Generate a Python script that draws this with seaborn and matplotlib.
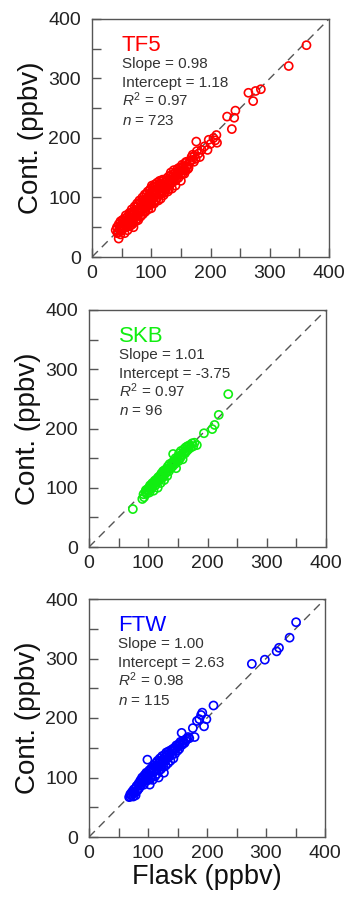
import matplotlib
matplotlib.use("Agg")
import matplotlib.pyplot as plt
import seaborn as sns
import pandas as pd
from matplotlib.ticker import MultipleLocator

sns.set_style("ticks")
plt.rcParams['font.family'] = ['Liberation Sans', 'DejaVu Sans']
plt.rcParams['mathtext.fontset'] = 'custom'
plt.rcParams['mathtext.rm'] = 'Liberation Sans'
plt.rcParams['mathtext.it'] = 'Liberation Sans:italic'

# ---------------- data ----------------
sites = ["TF5", "SKB", "FTW"]
site_colors = ["#ff0000", "#11ee11", "#0000ff"]
slopes = ["0.98", "1.01", "1.00"]
intercepts = ["1.18", "-3.75", "2.63"]
r2s = ["0.97", "0.97", "0.98"]
ns = ["723", "96", "115"]

tf5_flask = [40, 42, 43, 45, 45, 46, 48, 48, 50, 50,
             52, 53, 54, 55, 56, 57, 58, 59, 60, 60,
             62, 63, 64, 65, 66, 67, 68, 69, 70, 70,
             72, 73, 74, 75, 76, 77, 78, 79, 80, 80,
             82, 83, 84, 85, 86, 87, 88, 89, 90, 90,
             92, 93, 94, 95, 96, 97, 98, 99, 100, 100,
             102, 103, 104, 105, 106, 107, 108, 109, 110, 110,
             112, 113, 114, 115, 116, 117, 118, 119, 120, 121,
             123, 124, 126, 127, 128, 130, 131, 132, 134, 135,
             137, 138, 140, 141, 143, 144, 146, 148, 150, 150,
             152, 153, 155, 157, 158, 160, 162,
             44, 47, 49, 51, 53, 55, 57, 58, 61, 61,
             63, 64, 66, 67, 68, 70, 71, 72, 74, 75,
             76, 78, 79, 81, 82, 83, 85, 86, 88, 89,
             91, 92, 94, 95, 96, 97, 99, 100, 101, 103,
             104, 105, 107, 108, 110, 111, 112, 114, 115, 116,
             118, 119, 120, 122, 123, 125, 126, 128, 129, 130,
             132, 133, 135, 136, 138, 139, 141, 142, 145, 147,
             149, 151, 154, 156, 159, 161, 163, 166, 169, 173,
             165, 168, 170, 172, 175, 177, 180, 182, 176, 185,
             190, 195, 197, 200, 208, 210, 211, 205,
             228, 236, 240, 242, 264, 272, 276, 285, 332, 362]
tf5_cont = [45, 50, 40, 55, 31, 47, 38, 60, 52, 44,
            58, 48, 64, 40, 55, 70, 50, 62, 45, 68,
            57, 74, 52, 66, 60, 80, 55, 72, 64, 50,
            85, 68, 60, 77, 90, 70, 62, 82, 74, 95,
            68, 88, 78, 100, 72, 92, 82, 105, 76, 90,
            98, 85, 110, 80, 95, 104, 88, 115, 96, 82,
            108, 118, 92, 100, 122, 112, 95, 105, 125, 100,
            115, 105, 128, 110, 98, 120, 108, 130, 115, 104,
            125, 113, 132, 118, 110, 128, 120, 137, 125, 115,
            132, 140, 128, 120, 138, 148, 133, 143, 150, 128,
            155, 140, 147, 158, 145, 152, 148,
            42, 52, 46, 62, 56, 50, 60, 66, 52, 63,
            58, 70, 54, 64, 76, 58, 78, 66, 72, 84,
            64, 88, 76, 80, 92, 70, 86, 96, 76, 94,
            84, 106, 90, 100, 86, 112, 92, 108, 120, 98,
            112, 90, 118, 104, 112, 120, 95, 118, 124, 106,
            122, 112, 128, 108, 120, 118, 128, 124, 135, 114,
            128, 142, 135, 126, 146, 132, 142, 130, 143, 150,
            138, 146, 152, 140, 160, 155, 150, 162, 163, 170,
            160, 168, 172, 160, 165, 178, 174, 168, 194, 180,
            186, 180, 197, 190, 196, 205, 192, 200,
            236, 215, 234, 246, 276, 262, 279, 282, 321, 356]

skb_flask = [74, 90, 92, 93, 95, 97, 98, 100, 101, 102,
             104, 105, 106, 108, 109, 110, 111, 112, 114, 115,
             116, 117, 118, 120, 121, 122, 123, 125, 126, 127,
             128, 130, 131, 132, 133, 135, 136, 138, 140, 142,
             141, 143, 145, 146, 147, 148, 150, 151, 152, 154,
             155, 157, 158, 160, 162, 163, 165, 166, 168, 170,
             96, 103, 107, 113, 119, 124, 129, 134, 139, 144,
             149, 156, 161, 167,
             172, 174, 176, 178, 182, 194, 208, 212, 219, 235]
skb_cont = [64, 81, 89, 84, 93, 90, 97, 95, 100, 92,
            103, 98, 106, 102, 95, 108, 112, 104, 110, 115,
            100, 118, 112, 120, 108, 124, 116, 128, 120, 113,
            130, 125, 132, 120, 136, 128, 140, 133, 142, 157,
            136, 145, 140, 150, 133, 146, 152, 145, 158, 150,
            162, 155, 148, 165, 158, 168, 162, 170, 165, 172,
            96, 104, 108, 113, 117, 122, 127, 132, 138, 143,
            149, 156, 160, 168,
            168, 175, 170, 176, 172, 192, 199, 206, 223, 258]

ftw_flask = [68, 70, 72, 73, 75, 76, 78, 79, 80, 82,
             84, 85, 87, 88, 90, 91, 93, 94, 95, 97,
             98, 99, 100, 102, 103, 104, 105, 106, 107, 108,
             110, 111, 112, 113, 114, 115, 116, 117, 118, 119,
             120, 121, 122, 124, 125, 126, 127, 128, 129, 130,
             131, 132, 134, 135, 136, 138, 139, 140, 142, 143,
             145, 146, 148, 150, 152, 153, 155, 157, 158, 160,
             70, 74, 77, 81, 83, 86, 89, 92, 96, 98,
             101, 103, 105, 109, 112, 115, 118, 121, 123, 126,
             129, 133, 137, 141, 144, 147, 151, 154, 159, 164,
             162, 165, 168, 170, 176, 179, 183, 187, 190, 192, 195, 199, 211,
             276, 298, 318, 322, 340, 351]
ftw_cont = [67, 72, 70, 76, 68, 80, 74, 70, 84, 78,
            90, 82, 95, 86, 100, 92, 88, 104, 97, 108,
            95, 130, 102, 112, 88, 98, 108, 116, 104, 96,
            120, 110, 102, 124, 114, 106, 128, 118, 100, 112,
            132, 122, 114, 136, 126, 118, 108, 138, 128, 120,
            142, 132, 124, 144, 135, 128, 146, 138, 148, 132,
            150, 140, 154, 145, 156, 148, 160, 175, 155, 162,
            68, 73, 76, 86, 80, 90, 96, 98, 102, 106,
            96, 110, 114, 112, 118, 120, 124, 128, 118, 130,
            134, 138, 140, 144, 146, 148, 152, 156, 158, 162,
            158, 165, 168, 166, 183, 168, 195, 198, 205, 209, 186, 198, 221,
            291, 298, 312, 318, 335, 361]

flask_all = [tf5_flask, skb_flask, ftw_flask]
cont_all = [tf5_cont, skb_cont, ftw_cont]

one_to_one = [0, 400]
ticks = [0, 100, 200, 300, 400]

# ---------------- figure ----------------
W, H = 346, 899
fig = plt.figure(figsize=(W / 100, H / 100), dpi=100)

# axes boxes in pixels: (left, top, right, bottom)
boxes = [(92, 19, 329, 257), (89, 310, 326, 547), (89, 599, 325, 837)]

spine_col = "#555555"
text_col = "#333333"

for i, (l, t, r, b) in enumerate(boxes):
    ax = fig.add_axes([l / W, 1 - b / H, (r - l) / W, (b - t) / H])
    df = pd.DataFrame({"flask": flask_all[i], "cont": cont_all[i]})
    ax.plot(one_to_one, one_to_one, color="#555555", lw=1.0,
            dashes=(6, 4), zorder=1)
    sns.scatterplot(data=df, x="flask", y="cont", ax=ax, marker="o",
                    s=34, facecolor="none", edgecolor=site_colors[i],
                    linewidth=1.2, zorder=2)
    ax.set_xlim(0, 400)
    ax.set_ylim(0, 400)
    ax.set_xticks(ticks)
    ax.set_yticks(ticks)
    ax.xaxis.set_minor_locator(MultipleLocator(50))
    ax.yaxis.set_minor_locator(MultipleLocator(50))
    ax.tick_params(which="both", direction="in", length=6.5, width=1.0,
                   color=spine_col, top=False, right=False)
    ax.tick_params(axis="x", which="major", labelsize=14, pad=6,
                   labelcolor="#222222")
    ax.tick_params(axis="y", which="major", labelsize=14, pad=8,
                   labelcolor="#222222")
    for sp in ax.spines.values():
        sp.set_visible(True)
        sp.set_color(spine_col)
        sp.set_linewidth(1.0)
    ax.set_ylabel("Cont. (ppbv)", fontsize=20, color="#111111", labelpad=3)
    if i == 2:
        ax.set_xlabel("Flask (ppbv)", fontsize=19.5, color="#111111", labelpad=1)
    else:
        ax.set_xlabel("")

    ax.text(0.125, 0.866, sites[i], transform=ax.transAxes, fontsize=16,
            color=site_colors[i], va="baseline", ha="left")
    stats = [f"Slope = {slopes[i]}", f"Intercept = {intercepts[i]}",
             f"$R^2$ = {r2s[i]}", f"$n$ = {ns[i]}"]
    for k, s in enumerate(stats):
        ax.text(0.125, 0.793 - k * 0.079, s, transform=ax.transAxes,
                fontsize=11, color=text_col, va="baseline", ha="left")

fig.savefig("out.png", dpi=100)
